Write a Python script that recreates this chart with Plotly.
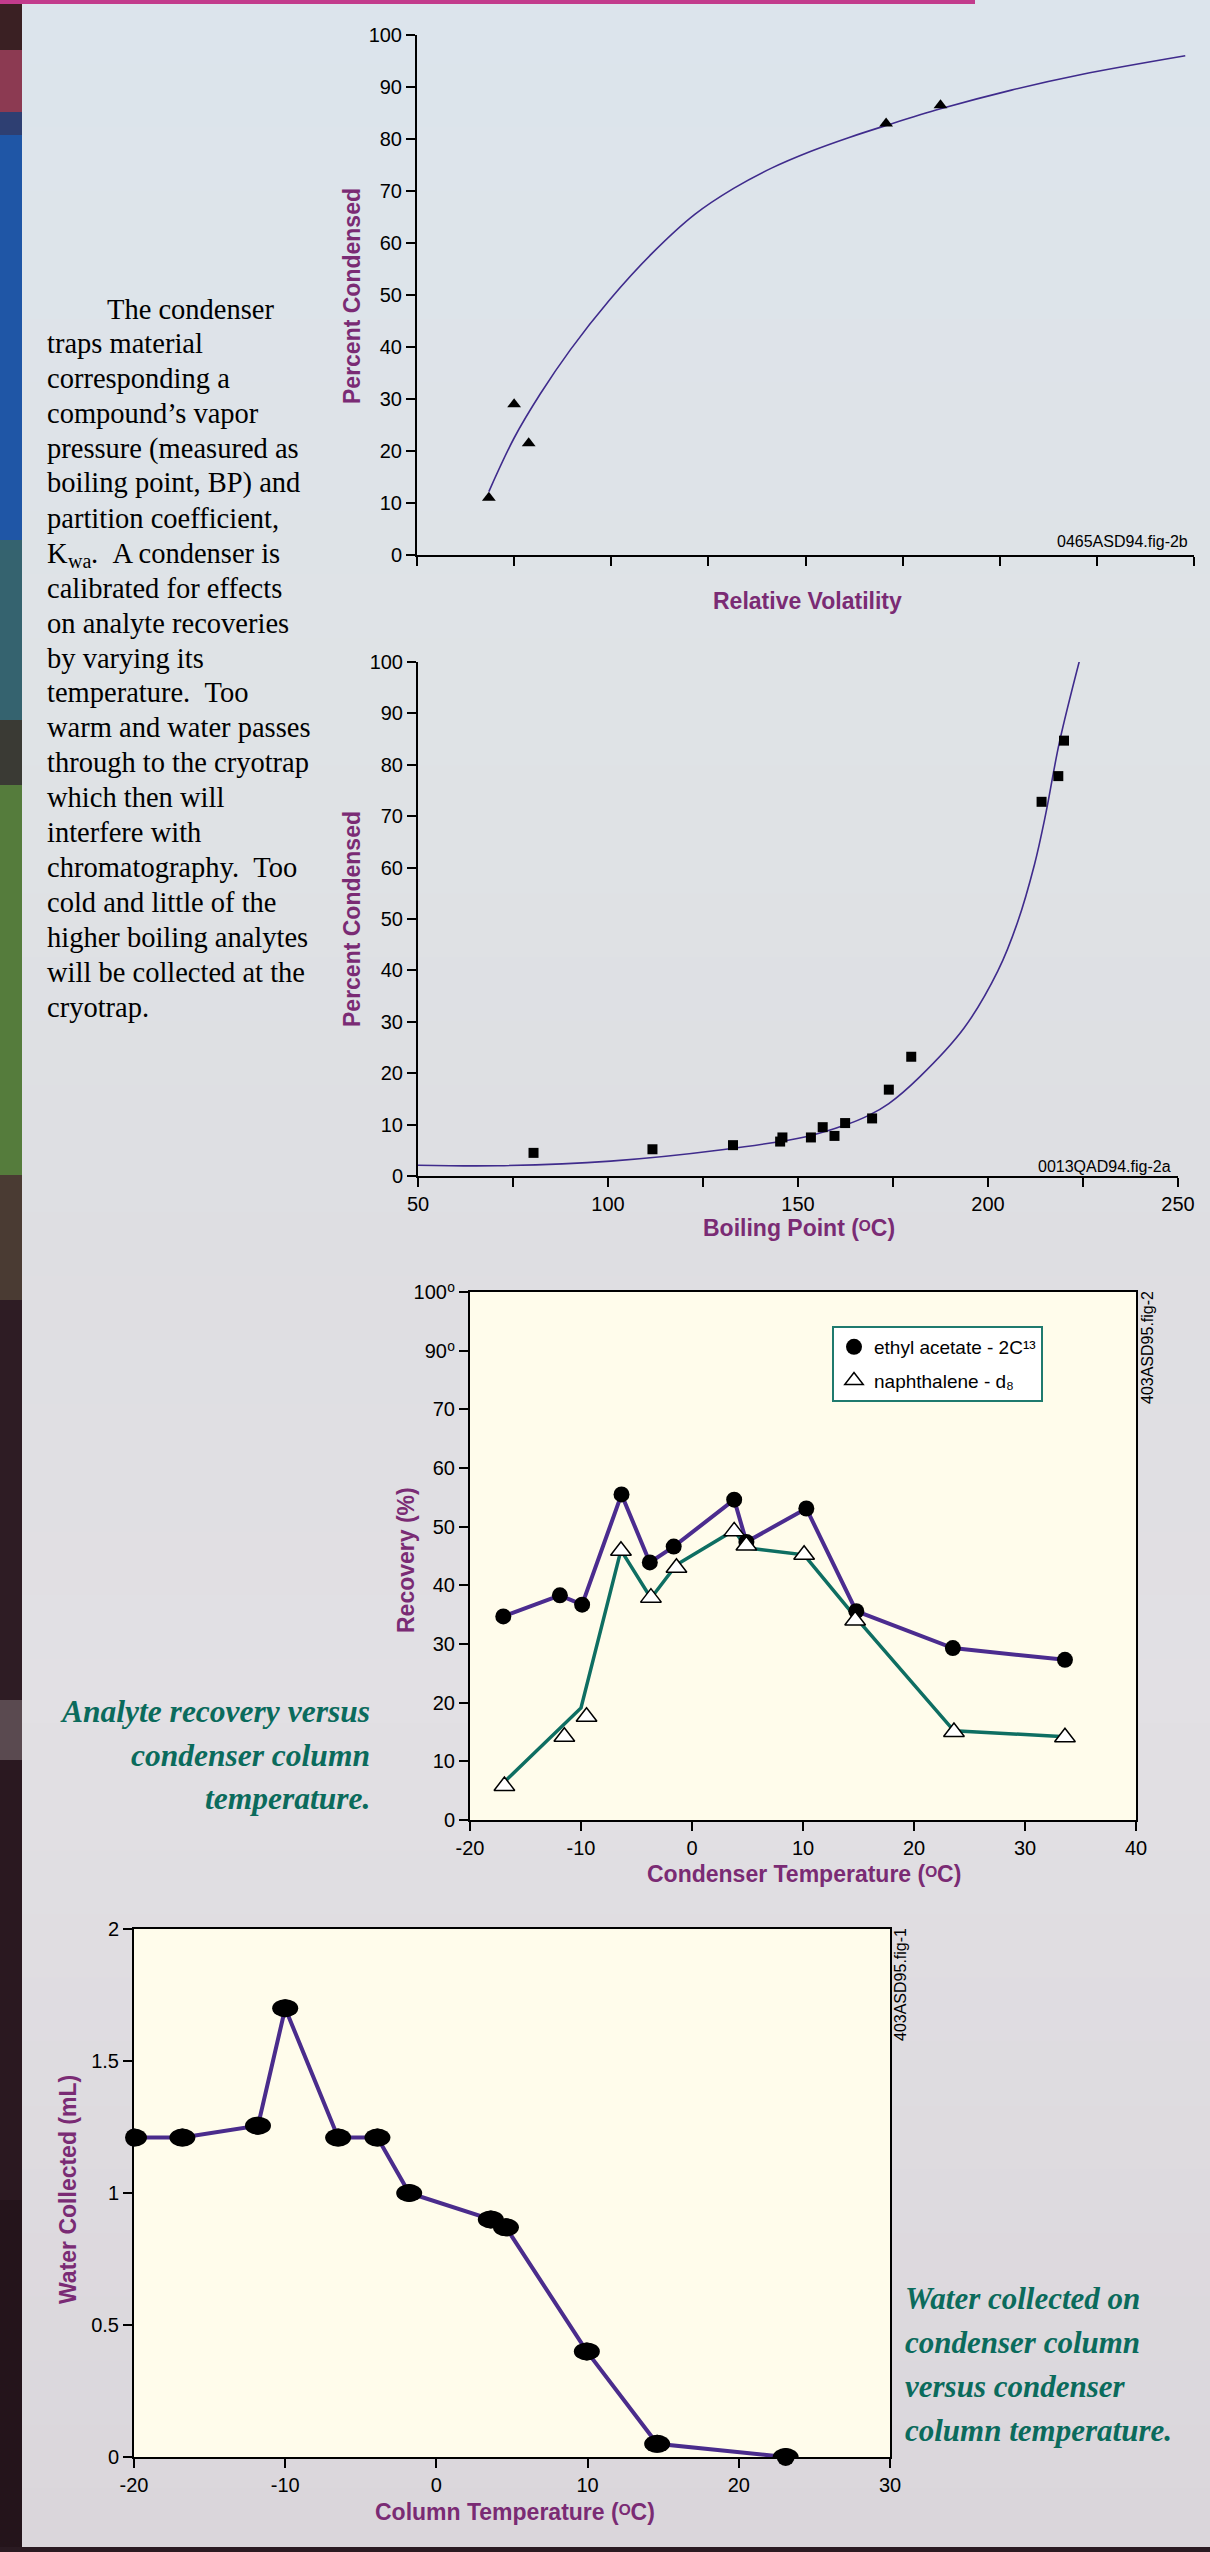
import plotly.graph_objects as go

W, H = 1210, 2552
SANS = "Liberation Sans, Arial, Helvetica, DejaVu Sans, sans-serif"
SERIF = "Liberation Serif, Times New Roman, serif"
PURPLE_T = "#7A2B74"
TEAL_T = "#0B6B5C"

# ---------------- data ----------------
# Panel 1: Percent condensed vs relative volatility
vol_x = [0.74, 1.00, 1.15, 4.83, 5.39]
vol_y = [11.0, 29.0, 21.5, 83.0, 86.5]
vol_fit_x = [0.74, 1.00, 1.27, 1.58, 1.98, 2.42, 2.86, 3.26, 3.65, 4.05, 4.45, 4.83, 5.39, 6.12, 6.84, 7.91]
vol_fit_y = [12.2, 22.5, 31.0, 39.5, 49.0, 58.0, 65.5, 70.5, 74.4, 77.6, 80.3, 82.6, 85.8, 89.4, 92.4, 96.0]

# Panel 2: Percent condensed vs boiling point
bp_x = [80.4, 111.7, 132.9, 145.3, 145.9, 153.4, 156.5, 159.6, 162.4, 169.5, 173.9, 179.8, 214.1, 218.5, 220.0]
bp_y = [4.5, 5.2, 6.0, 6.7, 7.5, 7.5, 9.5, 7.8, 10.3, 11.2, 16.8, 23.2, 72.8, 77.8, 84.7]
bp_fit_x = [50, 71, 100.7, 130, 152.4, 162.4, 168.6, 173.9, 181.9, 193.7, 202.6, 207.8, 212.2, 215.1, 218.8, 224.3]
bp_fit_y = [2.1, 2.0, 2.9, 5.1, 7.7, 9.9, 11.8, 14.1, 19.2, 28.8, 39.9, 49.4, 60.5, 70.1, 84.4, 100.9]

# Panel 3: Recovery vs condenser temperature
ethyl_x = [-17.0, -11.9, -9.9, -6.35, -3.8, -1.65, 3.8, 4.9, 10.3, 14.8, 23.5, 33.6]
ethyl_y = [34.7, 38.3, 36.7, 55.5, 43.9, 46.6, 54.6, 47.4, 53.1, 35.6, 29.3, 27.3]
naph_x = [-16.9, -11.5, -9.5, -6.4, -3.7, -1.4, 3.8, 4.9, 10.1, 14.7, 23.6, 33.6]
naph_y = [5.8, 14.2, 17.6, 45.9, 37.9, 43.0, 49.2, 46.8, 45.2, 34.0, 15.0, 14.1]
naph_line_x = [-16.9, -10.0, -6.4, -3.7, -1.4, 3.8, 4.9, 10.1, 14.8, 23.6, 33.6]
naph_line_y = [6.5, 19.1, 46.0, 37.8, 43.5, 49.4, 46.4, 45.2, 34.4, 15.2, 14.2]
rec_tickvals = [0, 10, 20, 30, 40, 50, 60, 70, 80, 90]
rec_ticktext = ["0", "10", "20", "30", "40", "50", "60", "70", "90\u2070", "100\u2070"]
cond_tickvals = [-20, -10, 0, 10, 20, 30, 40]
cond_ticktext = ["-20", "-10", "0", "10", "20", "30", "40"]

# Panel 4: Water collected vs column temperature
water_x = [-20.0, -16.8, -11.8, -10.0, -6.5, -3.9, -1.8, 3.6, 4.6, 9.95, 14.6, 23.1]
water_y = [1.21, 1.21, 1.255, 1.70, 1.21, 1.21, 1.00, 0.90, 0.87, 0.40, 0.05, 0.0]
col_tickvals = [-20, -10, 0, 10, 20, 30]
col_ticktext = ["-20", "-10", "0", "10", "20", "30"]
water_tickvals = [0, 0.5, 1, 1.5, 2]
water_ticktext = ["0", "0.5", "1", "1.5", "2"]

paragraph = [
    "The condenser",
    "traps material",
    "corresponding a",
    "compound\u2019s vapor",
    "pressure (measured as",
    "boiling point, BP) and",
    "partition coefficient,",
    None,  # K_wa line, drawn in pieces below
    "calibrated for effects",
    "on analyte recoveries",
    "by varying its",
    "temperature.\u00a0\u00a0Too",
    "warm and water passes",
    "through to the cryotrap",
    "which then will",
    "interfere with",
    "chromatography.\u00a0\u00a0Too",
    "cold and little of the",
    "higher boiling analytes",
    "will be collected at the",
    "cryotrap.",
]
caption1 = ["Analyte recovery versus", "condenser column", "temperature."]
caption2 = ["Water collected on", "condenser column", "versus condenser", "column temperature."]


def fx(px):
    return px / W


def fy(py):
    return 1 - py / H


fig = go.Figure()

# Panel 1
fig.add_trace(go.Scatter(x=vol_fit_x, y=vol_fit_y, mode="lines", line=dict(color="#3F2B8C", width=1.6, shape="spline"),
                         xaxis="x", yaxis="y", showlegend=False, hoverinfo="skip"))
fig.add_trace(go.Scatter(x=vol_x, y=vol_y, mode="markers", marker=dict(symbol="triangle-up", size=12, color="black"),
                         xaxis="x", yaxis="y", showlegend=False, cliponaxis=False))
# Panel 2
fig.add_trace(go.Scatter(x=bp_fit_x, y=bp_fit_y, mode="lines", line=dict(color="#3F2B8C", width=1.6, shape="spline"),
                         xaxis="x2", yaxis="y2", showlegend=False, cliponaxis=False, hoverinfo="skip"))
fig.add_trace(go.Scatter(x=bp_x, y=bp_y, mode="markers", marker=dict(symbol="square", size=10, color="black"),
                         xaxis="x2", yaxis="y2", showlegend=False, cliponaxis=False))
# Panel 3
fig.add_trace(go.Scatter(x=ethyl_x, y=ethyl_y, mode="lines", line=dict(color="#4B2C8F", width=4),
                         xaxis="x3", yaxis="y3", showlegend=False, hoverinfo="skip"))
fig.add_trace(go.Scatter(x=naph_line_x, y=naph_line_y, mode="lines", line=dict(color="#0E6E62", width=3.5),
                         xaxis="x3", yaxis="y3", showlegend=False, hoverinfo="skip"))
fig.add_trace(go.Scatter(x=ethyl_x, y=ethyl_y, mode="markers", name="ethyl acetate - 2C\u00b9\u00b3",
                         marker=dict(symbol="circle", size=16, color="black"),
                         xaxis="x3", yaxis="y3", legendgroup="a", cliponaxis=False))
fig.add_trace(go.Scatter(x=naph_x, y=naph_y, mode="markers", name="naphthalene - d\u2088",
                         marker=dict(symbol="triangle-up", size=18, color="white", line=dict(color="black", width=1.5)),
                         xaxis="x3", yaxis="y3", legendgroup="b", cliponaxis=False))
# Panel 4
fig.add_trace(go.Scatter(x=water_x, y=water_y, mode="lines+markers", line=dict(color="#4A2C8C", width=4),
                         marker=dict(symbol="circle", size=18, color="black"),
                         xaxis="x4", yaxis="y4", showlegend=False, cliponaxis=False))

axcommon = dict(showline=True, linecolor="black", linewidth=2, ticks="outside", ticklen=9, tickwidth=1.5,
                tickcolor="black", showgrid=False, zeroline=False, automargin=False,
                tickfont=dict(family=SANS, size=20, color="black"), fixedrange=True)

fig.update_layout(
    width=W, height=H, margin=dict(l=0, r=0, t=0, b=0, pad=0, autoexpand=False),
    paper_bgcolor="#DDE0E6", plot_bgcolor="rgba(0,0,0,0)",
    xaxis=dict(domain=[fx(417), fx(1194)], range=[0, 8], tickvals=list(range(9)), showticklabels=False,
               anchor="y", **axcommon),
    yaxis=dict(domain=[fy(555), fy(35)], range=[0, 100], dtick=10, anchor="x", **axcommon),
    xaxis2=dict(domain=[fx(418), fx(1178)], range=[50, 250], tick0=50, dtick=50, anchor="y2",
                minor=dict(tick0=75, dtick=50, ticks="outside", ticklen=9, tickwidth=1.5, tickcolor="black",
                           showgrid=False),
                **axcommon),
    yaxis2=dict(domain=[fy(1176), fy(662)], range=[0, 100], dtick=10, anchor="x2", **axcommon),
    xaxis3=dict(domain=[fx(470), fx(1136)], range=[-20, 40], tickvals=cond_tickvals, ticktext=cond_ticktext,
                anchor="y3", mirror=True, **axcommon),
    yaxis3=dict(domain=[fy(1820), fy(1292)], range=[0, 90], tickvals=rec_tickvals, ticktext=rec_ticktext,
                anchor="x3", mirror=True, **axcommon),
    xaxis4=dict(domain=[fx(134), fx(890)], range=[-20, 30], tickvals=col_tickvals, ticktext=col_ticktext,
                anchor="y4", mirror=True, **axcommon),
    yaxis4=dict(domain=[fy(2457), fy(1929)], range=[0, 2], tickvals=water_tickvals, ticktext=water_ticktext,
                anchor="x4", mirror=True, **axcommon),
    legend=dict(x=fx(832), y=fy(1326), xanchor="left", yanchor="top", bgcolor="white", bordercolor="#1F7A6E",
                borderwidth=2, font=dict(family=SANS, size=19, color="black"), tracegroupgap=6),
    showlegend=True,
)

# ---------- background decoration ----------
shapes = []
bg_keys = [(0, (220, 228, 236)), (700, (223, 227, 230)), (1250, (222, 222, 226)), (1700, (226, 224, 228)),
           (2552, (218, 214, 219))]
nb = 40
for i in range(nb):
    y0 = i * H / nb
    y1 = (i + 1) * H / nb
    ym = (y0 + y1) / 2
    for k in range(len(bg_keys) - 1):
        if bg_keys[k][0] <= ym <= bg_keys[k + 1][0]:
            t = (ym - bg_keys[k][0]) / (bg_keys[k + 1][0] - bg_keys[k][0])
            c = [round(bg_keys[k][1][j] + t * (bg_keys[k + 1][1][j] - bg_keys[k][1][j])) for j in range(3)]
            break
    shapes.append(dict(type="rect", xref="paper", yref="paper", x0=0, x1=1, y0=fy(y1 + 1), y1=fy(y0),
                       fillcolor="rgb(%d,%d,%d)" % tuple(c), line=dict(width=0), layer="below"))

# cream plot backgrounds
for ax in ("3", "4"):
    shapes.append(dict(type="rect", xref="x%s domain" % ax, yref="y%s domain" % ax, x0=0, x1=1, y0=0, y1=1,
                       fillcolor="#FFFCEB", line=dict(width=0), layer="below"))

# elliptical dots of the water plot, anchored on the data through the axes
for xv, yv in zip(water_x, water_y):
    shapes.append(dict(type="circle", xref="x4", yref="y4", xsizemode="pixel", ysizemode="pixel",
                       xanchor=xv, yanchor=yv, x0=-13, x1=13, y0=-9, y1=9,
                       fillcolor="black", line=dict(width=0), layer="above"))

# left photo strip
strip = [(0, 50, "#3A2023"), (50, 112, "#8C3A52"), (112, 135, "#2E3F72"), (135, 540, "#1F56A6"),
         (540, 720, "#35636F"), (720, 785, "#3A3A34"), (785, 1175, "#557C3C"), (1175, 1300, "#4A3B33"),
         (1300, 1700, "#2E1C24"), (1700, 1760, "#5A4A50"), (1760, 2200, "#2A1820"), (2200, 2552, "#24141B")]
for a, b, c in strip:
    shapes.append(dict(type="rect", xref="paper", yref="paper", x0=0, x1=fx(22), y0=fy(b), y1=fy(a),
                       fillcolor=c, line=dict(width=0), layer="above"))
# top magenta bar and bottom dark bar
shapes.append(dict(type="rect", xref="paper", yref="paper", x0=0, x1=fx(975), y0=fy(4), y1=1,
                   fillcolor="#C23B8C", line=dict(width=0), layer="above"))
shapes.append(dict(type="rect", xref="paper", yref="paper", x0=0, x1=1, y0=0, y1=fy(2547),
                   fillcolor="#2A1A22", line=dict(width=0), layer="above"))
fig.update_layout(shapes=shapes)

# ---------- text ----------
anns = []


def ann(text, x, y, size, color="black", family=SANS, xanchor="center", yanchor="middle", angle=0,
        weight="normal", style="normal"):
    anns.append(dict(text=text, x=fx(x), y=fy(y), xref="paper", yref="paper", showarrow=False,
                     xanchor=xanchor, yanchor=yanchor, textangle=angle,
                     font=dict(family=family, size=size, color=color, weight=weight, style=style)))


# axis titles
ann("Percent Condensed", 352, 296, 23, PURPLE_T, angle=-90, weight="bold")
ann("Relative Volatility", 807, 601, 23, PURPLE_T, weight="bold")
ann("Percent Condensed", 352, 919, 23, PURPLE_T, angle=-90, weight="bold")
ann("Boiling Point (\u1d3cC)", 799, 1228, 23, PURPLE_T, weight="bold")
ann("Recovery (%)", 406, 1560, 23, PURPLE_T, angle=-90, weight="bold")
ann("Condenser Temperature (\u1d3cC)", 804, 1874, 23, PURPLE_T, weight="bold")
ann("Water Collected (mL)", 68, 2190, 23, PURPLE_T, angle=-90, weight="bold")
ann("Column Temperature (\u1d3cC)", 515, 2512, 23, PURPLE_T, weight="bold")

# figure ids
ann("0465ASD94.fig-2b", 1190, 541, 16, xanchor="right")
ann("0013QAD94.fig-2a", 1173, 1166, 16, xanchor="right")
ann("403ASD95.fig-2", 1147, 1348, 16, angle=-90)
ann("403ASD95.fig-1", 900, 1985, 16, angle=-90)

# paragraph
PSIZE = 28.5
for i, line in enumerate(paragraph):
    yl = 309 + i * 34.9
    if line is None:
        # "K" with subscript "wa", then the rest of the line
        ann("K", 45, yl, PSIZE, "black", SERIF, xanchor="left")
        ann("wa", 45 + 0.722 * PSIZE, yl + 8, 20, "black", SERIF, xanchor="left")
        ann(".\u00a0\u00a0A condenser is", 45 + 0.722 * PSIZE + 1.166 * 20, yl, PSIZE, "black", SERIF,
            xanchor="left")
    else:
        ann(line, 105 if i == 0 else 45, yl, PSIZE, "black", SERIF, xanchor="left")

# captions
for i, line in enumerate(caption1):
    ann(line, 372, 1712 + i * 43.3, 31.5, TEAL_T, SERIF, xanchor="right", weight="bold", style="italic")
for i, line in enumerate(caption2):
    ann(line, 903, 2298 + i * 44, 31, TEAL_T, SERIF, xanchor="left", weight="bold", style="italic")

fig.update_layout(annotations=anns)

fig.write_html("out.html", config={"displayModeBar": False},
               post_script="document.body.style.margin='0';document.body.style.overflow='hidden';")
